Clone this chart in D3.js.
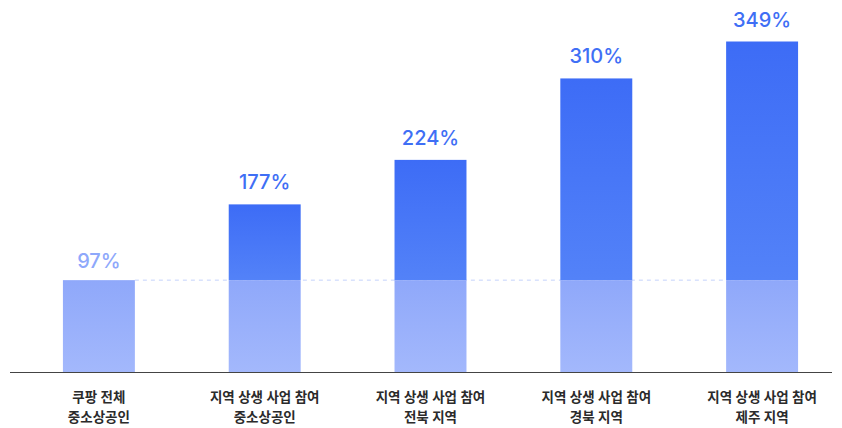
<!DOCTYPE html>
<html><head><meta charset="utf-8">
<script src="https://cdn.jsdelivr.net/npm/d3@7"></script>
<style>
html,body{margin:0;padding:0;background:#fff;}
svg{display:block;}
text{font-family:Inter,"Noto Sans CJK KR",sans-serif;}
</style></head>
<body>
<svg id="chart" width="842" height="428"></svg>
<script>
const categoriesLine1 = ["쿠팡 전체", "지역 상생 사업 참여", "지역 상생 사업 참여", "지역 상생 사업 참여", "지역 상생 사업 참여"];
const categoriesLine2 = ["중소상공인", "중소상공인", "전북 지역", "경북 지역", "제주 지역"];
const values = [97, 177, 224, 310, 349];
const valueLabels = ["97%", "177%", "224%", "310%", "349%"];
const baseValue = 97;

const svg = d3.select("#chart");
const baseY = 372;
const data = values.map((v, i) => ({ i, v, label: valueLabels[i], c1: categoriesLine1[i], c2: categoriesLine2[i] }));

const x = d3.scaleBand().domain(d3.range(values.length)).range([16, 845]).paddingInner(0.566).paddingOuter(0.283);
const y = d3.scaleLinear().domain([0, 349]).range([baseY, 41.5]);
const cx = d => x(d.i) + x.bandwidth() / 2;

const defs = svg.append("defs");
const gDark = defs.append("linearGradient").attr("id","gDark").attr("x1",0).attr("y1",0).attr("x2",0).attr("y2",1);
gDark.append("stop").attr("offset","0%").attr("stop-color","#3d6cf6");
gDark.append("stop").attr("offset","100%").attr("stop-color","#5382f8");
const gLight = defs.append("linearGradient").attr("id","gLight").attr("x1",0).attr("y1",0).attr("x2",0).attr("y2",1);
gLight.append("stop").attr("offset","0%").attr("stop-color","#8fa8fa");
gLight.append("stop").attr("offset","100%").attr("stop-color","#a3b8fc");

// dashed reference line
svg.append("line")
  .attr("x1", x(0) + x.bandwidth()).attr("x2", x(values.length-1) + x.bandwidth())
  .attr("y1", y(baseValue)).attr("y2", y(baseValue))
  .attr("stroke", "#c5d2fb").attr("stroke-width", 1).attr("stroke-dasharray", "4,4");

svg.append("g").selectAll("rect").data(data.filter(d => d.v > baseValue)).join("rect")
  .attr("x", d => x(d.i)).attr("width", x.bandwidth())
  .attr("y", d => y(d.v)).attr("height", d => y(baseValue) - y(d.v))
  .attr("fill", "url(#gDark)");

svg.append("g").selectAll("rect").data(data).join("rect")
  .attr("x", d => x(d.i)).attr("width", x.bandwidth())
  .attr("y", d => y(Math.min(d.v, baseValue))).attr("height", d => baseY - y(Math.min(d.v, baseValue)))
  .attr("fill", "url(#gLight)");

svg.append("g").selectAll("text").data(data).join("text")
  .attr("x", cx)
  .attr("y", d => y(d.v) - (d.v > baseValue ? 15 : 12))
  .attr("text-anchor", "middle")
  .attr("font-size", 20).attr("font-weight", 500)
  .attr("fill", d => d.v > baseValue ? "#3f6ff5" : "#8ea8fb")
  .text(d => d.label);

// axis line
svg.append("line").attr("x1", 10).attr("x2", 832).attr("y1", baseY + 0.5).attr("y2", baseY + 0.5)
  .attr("stroke", "#444").attr("stroke-width", 1);

const labels = svg.append("g").selectAll("text").data(data).join("text")
  .attr("text-anchor", "middle").attr("font-size", 13.5).attr("font-weight", 600).attr("fill", "#2b2b2b");
labels.append("tspan").attr("x", cx).attr("y", 402).text(d => d.c1);
labels.append("tspan").attr("x", cx).attr("y", 422).text(d => d.c2);
</script>
</body></html>
